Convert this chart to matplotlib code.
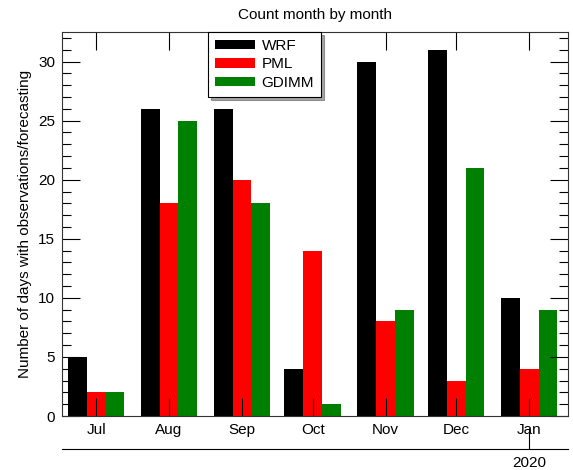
import matplotlib.pyplot as plt
import numpy as np

plt.rcParams['font.family'] = ['Liberation Sans', 'DejaVu Sans']

# month positions in days from 1 Jul 2019
months = ['Jul', 'Aug', 'Sep', 'Oct', 'Nov', 'Dec', 'Jan']
month_pos = np.array([0, 31, 62, 92, 123, 153, 184])
wrf = [5, 26, 26, 4, 30, 31, 10]
pml = [2, 18, 20, 14, 8, 3, 4]
gdimm = [2, 25, 18, 1, 9, 21, 9]

fig = plt.figure(figsize=(5.73, 4.70), dpi=100)
ax = fig.add_axes([62/573, 1-416/470, 506/573, 384/470])

w = 8
ax.bar(month_pos - w, wrf, width=w, color='black', label='WRF')
ax.bar(month_pos, pml, width=w, color='red', label='PML')
ax.bar(month_pos + w, gdimm, width=w, color='green', label='GDIMM')

ax.set_xlim(-14.5, 200.5)
ax.set_ylim(0, 32.5)
ax.set_xticks(month_pos)
ax.set_xticklabels(months)
ax.set_yticks(np.arange(0, 31, 5))
ax.set_yticks(np.arange(0, 33, 1), minor=True)
ax.tick_params(which='both', direction='in', top=True, right=True, labelsize=11, colors='black')
ax.tick_params(which='major', length=13, width=0.8, pad=5)
ax.tick_params(which='minor', length=6.5, width=0.8)
ax.tick_params(axis='x', which='minor', top=False, bottom=False)
for s in ax.spines.values():
    s.set_linewidth(0.8)
    s.set_color('#333333')

ax.set_title('Count month by month', fontsize=11, pad=9)
ax.set_ylabel('Number of days with observations/forecasting', fontsize=11, labelpad=4)

leg = ax.legend(loc='upper left', bbox_to_anchor=(0.289, 1.0), borderaxespad=0,
                fancybox=False, shadow=True, fontsize=11, handlelength=2.6,
                handleheight=0.55, labelspacing=0.3, handletextpad=0.45,
                borderpad=0.45, framealpha=1, edgecolor='black')
leg.get_frame().set_linewidth(0.8)

# year axis below
sec = ax.secondary_xaxis(-0.086)
sec.set_xticks([184])
sec.set_xticklabels(['2020'])
sec.tick_params(direction='in', length=15, width=0.8, labelsize=11, pad=5)
sec.spines['bottom'].set_linewidth(0.8)

fig.savefig('out.png', dpi=100)
